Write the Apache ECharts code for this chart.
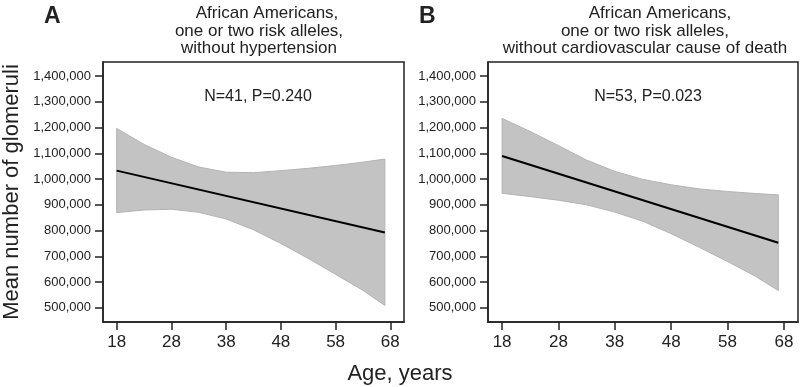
<!DOCTYPE html>
<html>
<head>
<meta charset="utf-8">
<script src="https://cdn.jsdelivr.net/npm/echarts@6/dist/echarts.min.js"></script>
<style>
  html, body { margin: 0; padding: 0; background: #fff; }
  #chart { width: 802px; height: 387px; }
</style>
</head>
<body>
<div id="chart"></div>
<script>
// ages at which the confidence band was read
const bandAges = [18, 23, 28, 33, 38, 43, 48, 53, 58, 63, 67]
// panel A: without hypertension
const upperA = [1197000, 1135000, 1085000, 1047000, 1027000, 1025000, 1033000, 1042000, 1053000, 1066000, 1078000]
const lowerA = [870000, 880000, 883000, 871000, 845000, 803000, 750000, 692000, 630000, 568000, 509000]
// panel B: without cardiovascular cause of death
const upperB = [1236000, 1185000, 1130000, 1074000, 1030000, 999000, 978000, 962000, 952000, 944000, 939000]
const lowerB = [945000, 932000, 918000, 900000, 872000, 836000, 788000, 735000, 680000, 622000, 567000]
// fitted lines
const fitAges = [18, 67]
const fitA = [1033000, 793000]
const fitB = [1090000, 753000]

const xTicks = [18, 28, 38, 48, 58, 68]
const yTicks = [500000, 600000, 700000, 800000, 900000, 1000000, 1100000, 1200000, 1300000, 1400000]

const font = 'Liberation Sans, Arial, sans-serif'
const ink = '#222'

const chart = echarts.init(document.getElementById('chart'))

const xAxisFor = (gridIndex) => ({
  type: 'value',
  gridIndex,
  min: 15.5,
  max: 70.5,
  axisLine: { show: true, onZero: false, lineStyle: { color: ink, width: 1.5 } },
  axisTick: { show: true, length: 8, customValues: xTicks, lineStyle: { color: ink, width: 1.5 } },
  axisLabel: { customValues: xTicks, color: ink, fontSize: 17, fontFamily: font, margin: 12 },
  splitLine: { show: false }
})

const yAxisFor = (gridIndex) => ({
  type: 'value',
  gridIndex,
  min: 445000,
  max: 1455000,
  axisLine: { show: true, onZero: false, lineStyle: { color: ink, width: 1.5 } },
  axisTick: { show: true, length: 8, customValues: yTicks, lineStyle: { color: ink, width: 1.5 } },
  axisLabel: {
    customValues: yTicks,
    color: ink,
    fontSize: 13,
    fontFamily: font,
    margin: 12,
    formatter: (v) => v.toLocaleString('en-US')
  },
  splitLine: { show: false }
})

// confidence band drawn as one polygon through the axis scales
const bandSeries = (idx, upper, lower) => ({
  type: 'custom',
  xAxisIndex: idx,
  yAxisIndex: idx,
  data: bandAges.map((a, i) => [a, lower[i], upper[i]]),
  encode: { x: 0, y: [1, 2] },
  silent: true,
  renderItem: (params, api) => {
    if (params.dataIndex !== 0) return
    const top = bandAges.map((a, i) => api.coord([a, upper[i]]))
    const bottom = bandAges.map((a, i) => api.coord([a, lower[i]])).reverse()
    return {
      type: 'polygon',
      shape: { points: top.concat(bottom) },
      style: { fill: '#c3c3c3', stroke: '#b3b3b3', lineWidth: 1 }
    }
  }
})

const fitSeries = (idx, fit) => ({
  type: 'line',
  xAxisIndex: idx,
  yAxisIndex: idx,
  data: fitAges.map((a, i) => [a, fit[i]]),
  symbol: 'none',
  lineStyle: { color: '#000', width: 2 },
  z: 5,
  silent: true
})

const titleText = (text, left, top, size, weight) => ({
  text,
  left,
  top,
  textAlign: 'center',
  textStyle: { color: ink, fontSize: size, fontWeight: weight || 'normal', fontFamily: font }
})

const option = {
  animation: false,
  title: [
    { text: 'A', left: 39, top: 0, textStyle: { color: ink, fontSize: 23, fontWeight: 'bold', fontFamily: font } },
    { text: 'B', left: 414, top: 0, textStyle: { color: ink, fontSize: 23, fontWeight: 'bold', fontFamily: font } },
    titleText('African Americans,', 262, 0, 17),
    titleText('one or two risk alleles,', 254, 18, 17),
    titleText('without hypertension', 254, 35, 17),
    titleText('African Americans,', 655, 0, 17),
    titleText('one or two risk alleles,', 640, 18, 17),
    titleText('without cardiovascular cause of death', 640, 35, 17),
    titleText('N=41, P=0.240', 253, 84, 16),
    titleText('N=53, P=0.023', 643, 84, 16)
  ],
  graphic: [
    {
      type: 'text',
      x: 1,
      y: 192,
      rotation: Math.PI / 2,
      style: {
        text: 'Mean number of glomeruli',
        fill: ink,
        font: '22px ' + font,
        textAlign: 'center',
        textVerticalAlign: 'top'
      }
    },
    {
      type: 'text',
      x: 400,
      y: 363,
      style: {
        text: 'Age, years',
        fill: ink,
        font: '22px ' + font,
        textAlign: 'center'
      }
    }
  ],
  grid: [
    { left: 103, top: 62, width: 301, height: 260, show: true, borderColor: ink, borderWidth: 1.5, backgroundColor: 'transparent' },
    { left: 488, top: 62, width: 310, height: 260, show: true, borderColor: ink, borderWidth: 1.5, backgroundColor: 'transparent' }
  ],
  xAxis: [xAxisFor(0), xAxisFor(1)],
  yAxis: [yAxisFor(0), yAxisFor(1)],
  series: [
    bandSeries(0, upperA, lowerA),
    fitSeries(0, fitA),
    bandSeries(1, upperB, lowerB),
    fitSeries(1, fitB)
  ]
}

chart.setOption(option)
</script>
</body>
</html>
